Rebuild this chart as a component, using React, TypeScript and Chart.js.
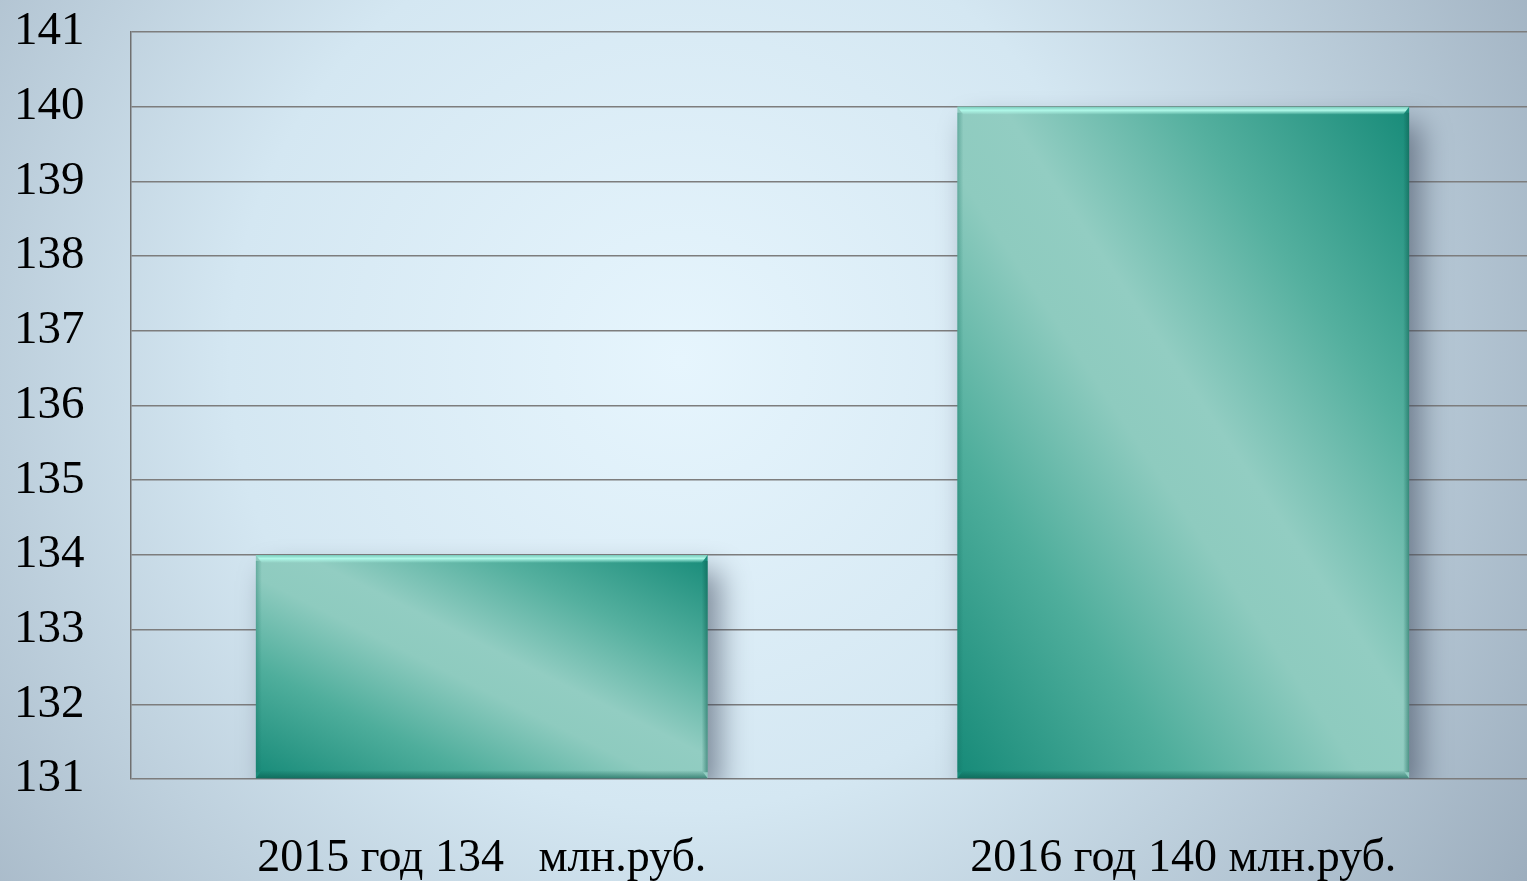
import React, { useEffect, useRef } from "react";
import { Chart, registerables } from "chart.js";

Chart.register(...registerables);

const categories: string[] = ["2015 год 134   млн.руб.", "2016 год 140 млн.руб."];
const values: number[] = [134, 140];
const yMin = 131;
const yMax = 141;
const yStep = 1;

const bgPlugin = {
  id: "bgPlugin",
  beforeDraw(chart: any) {
    const { ctx, width, height } = chart;
    ctx.save();
    const g = ctx.createRadialGradient(680, 360, 0, 680, 360, 1000);
    g.addColorStop(0, "#e6f5fd");
    g.addColorStop(0.45, "#d4e7f2");
    g.addColorStop(1, "#9cadbd");
    ctx.fillStyle = g;
    ctx.fillRect(0, 0, width, height);
    ctx.restore();
  },
};

const barStylePlugin = {
  id: "barStyle",
  beforeDatasetsDraw(chart: any) {
    const { ctx } = chart;
    const meta = chart.getDatasetMeta(0);
    meta.data.forEach((el: any) => {
      const w = el.width;
      const h = el.base - el.y;
      const cx = el.x;
      const cy = (el.y + el.base) / 2;
      const k = (w * h) / (w * w + h * h);
      const dx = k * h;
      const dy = -k * w;
      const g = ctx.createLinearGradient(cx - dx, cy - dy, cx + dx, cy + dy);
      g.addColorStop(0, "#168a78");
      g.addColorStop(0.25, "#4fae9c");
      g.addColorStop(0.45, "#8ecbbf");
      g.addColorStop(0.55, "#92cdc2");
      g.addColorStop(0.75, "#55b09f");
      g.addColorStop(1, "#178b79");
      el.options = Object.assign({}, el.options, { backgroundColor: g });
    });
  },
  beforeDatasetDraw(chart: any) {
    const { ctx } = chart;
    ctx.save();
    ctx.shadowColor = "rgba(50,60,80,0.55)";
    ctx.shadowBlur = 28;
    ctx.shadowOffsetX = 12;
    ctx.shadowOffsetY = 16;
  },
  afterDatasetDraw(chart: any) {
    chart.ctx.restore();
  },
  afterDatasetsDraw(chart: any) {
    const { ctx } = chart;
    const meta = chart.getDatasetMeta(0);
    meta.data.forEach((el: any) => {
      const left = el.x - el.width / 2;
      const right = el.x + el.width / 2;
      const top = el.y;
      const bottom = el.base;
      ctx.save();
      const hg = ctx.createLinearGradient(0, top, 0, top + 8);
      hg.addColorStop(0, "rgba(120,200,185,1)");
      hg.addColorStop(0.45, "rgba(175,248,232,1)");
      hg.addColorStop(1, "rgba(175,248,232,0)");
      ctx.fillStyle = hg;
      ctx.beginPath();
      ctx.moveTo(left, top);
      ctx.lineTo(right, top);
      ctx.lineTo(right - 6, top + 8);
      ctx.lineTo(left + 6, top + 8);
      ctx.closePath();
      ctx.fill();
      const bg = ctx.createLinearGradient(0, bottom - 8, 0, bottom);
      bg.addColorStop(0, "rgba(10,90,75,0)");
      bg.addColorStop(1, "rgba(10,90,75,0.6)");
      ctx.fillStyle = bg;
      ctx.beginPath();
      ctx.moveTo(left + 6, bottom - 8);
      ctx.lineTo(right - 6, bottom - 8);
      ctx.lineTo(right, bottom);
      ctx.lineTo(left, bottom);
      ctx.closePath();
      ctx.fill();
      const rg = ctx.createLinearGradient(right - 6, 0, right, 0);
      rg.addColorStop(0, "rgba(10,90,75,0)");
      rg.addColorStop(1, "rgba(10,90,75,0.5)");
      ctx.fillStyle = rg;
      ctx.fillRect(right - 6, top + 6, 6, bottom - top - 12);
      const lg = ctx.createLinearGradient(left, 0, left + 6, 0);
      lg.addColorStop(0, "rgba(20,110,95,0.35)");
      lg.addColorStop(1, "rgba(20,110,95,0)");
      ctx.fillStyle = lg;
      ctx.fillRect(left, top + 6, 6, bottom - top - 12);
      ctx.restore();
    });
  },
};

export default function App() {
  const ref = useRef<HTMLCanvasElement | null>(null);

  useEffect(() => {
    if (!ref.current) return;
    const chart = new Chart(ref.current, {
      type: "bar",
      data: {
        labels: categories,
        datasets: [
          {
            data: values,
            backgroundColor: (c: any) => (c.dataIndex === 0 ? "#4fae9c" : "#4fae9d"),
            borderWidth: 0,
            categoryPercentage: 1,
            barPercentage: 0.644,
            base: yMin,
          },
        ],
      },
      options: {
        animation: false,
        responsive: false,
        devicePixelRatio: 1,
        layout: { padding: { left: 14, top: 32, right: 0, bottom: 0 } },
        plugins: {
          legend: { display: false },
          tooltip: { enabled: false },
        },
        scales: {
          x: {
            grid: { display: false, drawTicks: false },
            border: { display: false },
            ticks: {
              color: "#000",
              padding: 52,
              font: { family: "'Liberation Serif', serif", size: 46 },
              maxRotation: 0,
              autoSkip: false,
            },
            afterFit(scale: any) {
              scale.height = 102;
            },
          },
          y: {
            min: yMin,
            max: yMax,
            grid: { color: "#7d7d7d", lineWidth: 1.5, drawTicks: false },
            border: { display: true, color: "#707070", width: 1.5 },
            ticks: {
              stepSize: yStep,
              color: "#000",
              padding: 0,
              crossAlign: "far",
              font: { family: "'Liberation Serif', serif", size: 47 },
            },
            afterFit(scale: any) {
              scale.width = 117;
            },
          },
        },
      },
      plugins: [bgPlugin, barStylePlugin],
    } as any);
    return () => chart.destroy();
  }, []);

  return (
    <div style={{ position: "fixed", left: 0, top: 0, width: 1527, height: 881, overflow: "hidden" }}>
      <canvas ref={ref} width={1534} height={881} style={{ display: "block", width: 1534, height: 881 }} />
    </div>
  );
}
